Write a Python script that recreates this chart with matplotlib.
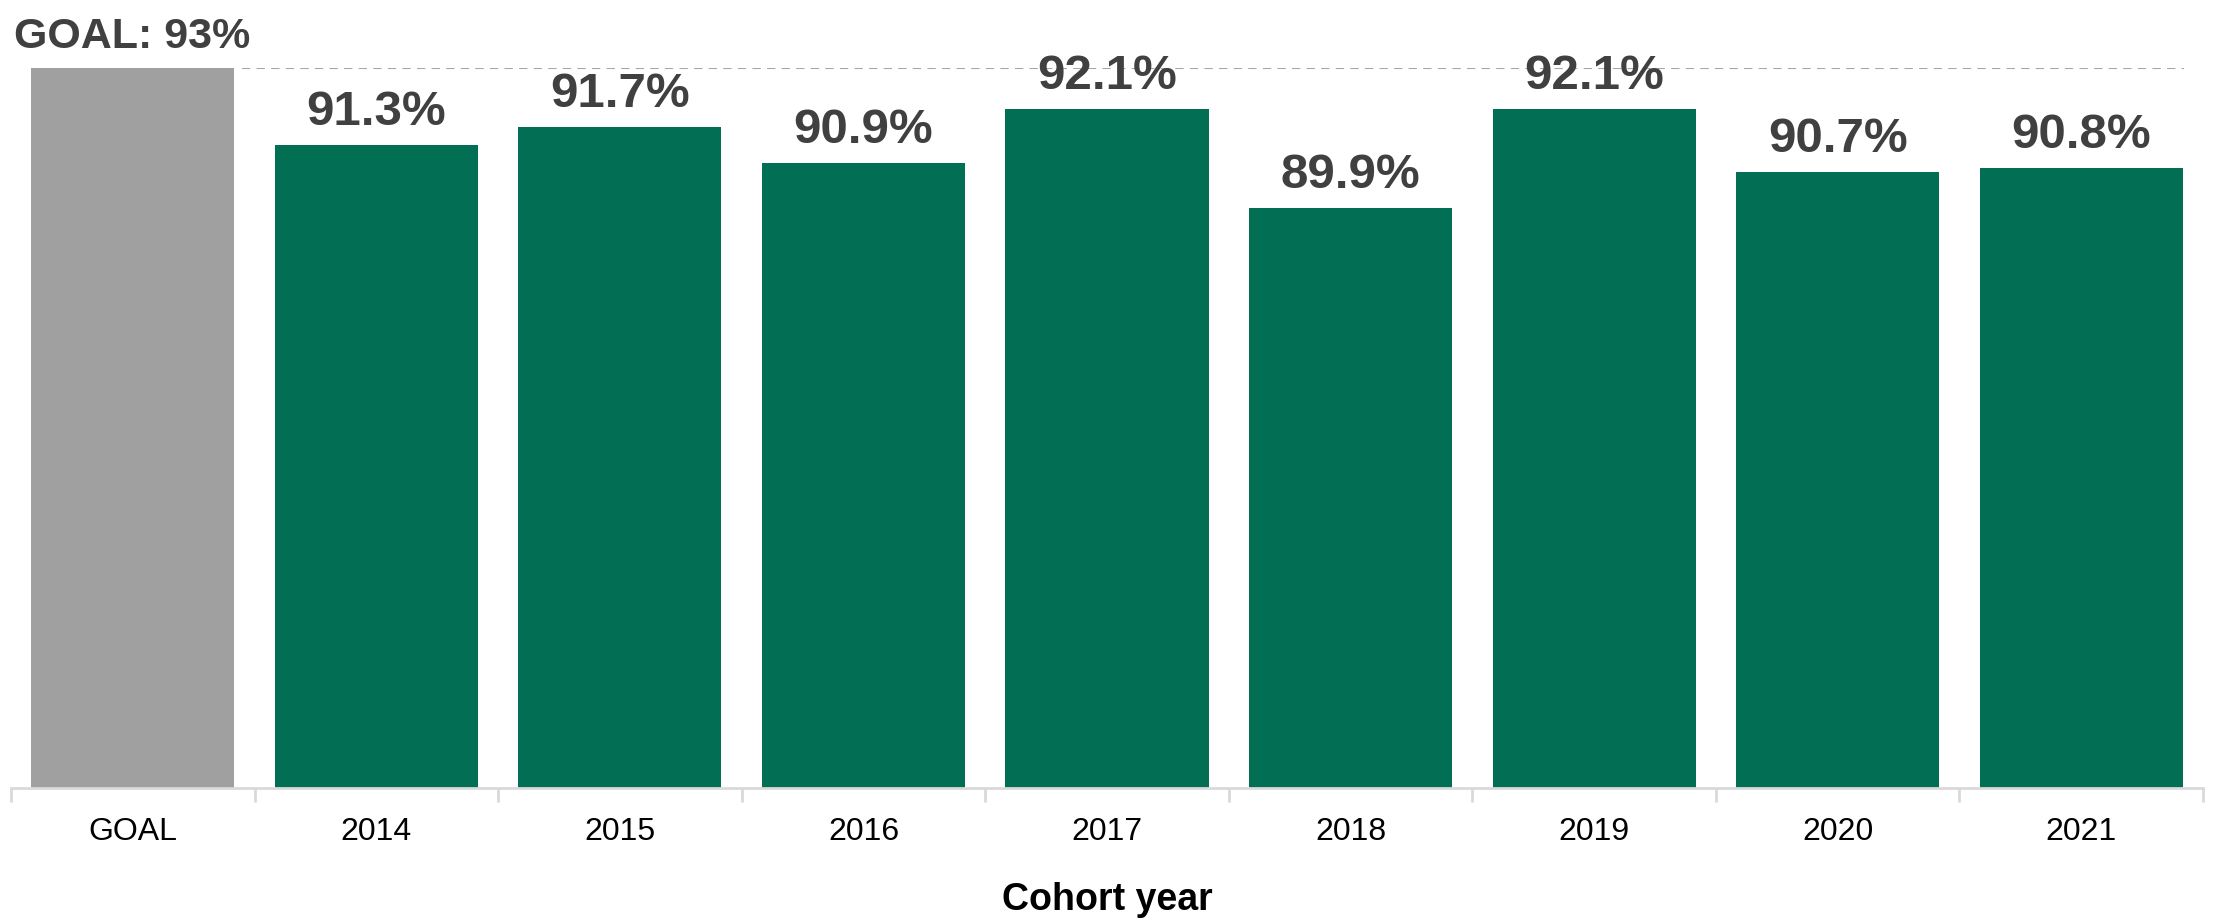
import numpy as np
import matplotlib
matplotlib.use('Agg')
import matplotlib.pyplot as plt

# data
categories = ['GOAL', '2014', '2015', '2016', '2017', '2018', '2019', '2020', '2021']
goal = 93.0
rates = [91.3, 91.7, 90.9, 92.1, 89.9, 92.1, 90.7, 90.8]

plt.rcParams['font.family'] = ['Liberation Sans', 'DejaVu Sans']

GREEN = '#026F54'
GREY = '#9FA09F'
LABEL = '#404040'

fig = plt.figure(figsize=(22.14, 9.23), dpi=100)
ax = fig.add_axes([11/2214, 1 - 788/923, (2203 - 11)/2214, (788 - 68)/923])

values = [goal] + rates
colors = [GREY] + [GREEN] * len(rates)
x = np.arange(len(categories))
ax.bar(x, values, width=0.834, color=colors, zorder=2)

ax.set_xlim(-0.5, len(categories) - 0.5)
ax.set_ylim(77.1, 93)

# goal line
ax.hlines(goal, 0.45, len(categories) - 0.58, colors='#A6A6A6', linestyles=(0, (4, 3)),
          linewidth=1.5, zorder=1)

# value labels
for xi, v in zip(x[1:], rates):
    ax.annotate(f'{v:.1f}%', (xi, v), xytext=(0, 14.4), textcoords='offset points',
                ha='center', va='baseline', fontsize=35.5, fontweight='bold',
                color=LABEL, zorder=3, annotation_clip=False)

fig.text(14/2214, 1 - 48/923, f'GOAL: {goal:.0f}%', ha='left', va='baseline',
         fontsize=31, fontweight='bold', color=LABEL)

# axes styling
for s in ['top', 'right', 'left']:
    ax.spines[s].set_visible(False)
ax.spines['bottom'].set_color('#D9D9D9')
ax.spines['bottom'].set_linewidth(2)
ax.set_yticks([])
ax.set_xticks(x)
ax.set_xticklabels(categories, fontsize=23, color='black')
ax.tick_params(axis='x', which='major', length=0, pad=21)
ax.set_xticks(np.arange(-0.5, len(categories)), minor=True)
ax.tick_params(axis='x', which='minor', length=10, width=2, color='#D9D9D9')

fig.text(0.5 * (11 + 2203)/2214, 1 - 900/923, 'Cohort year', ha='center', va='center',
         fontsize=27, fontweight='bold', color='black')

fig.savefig('out.png', dpi=100)
